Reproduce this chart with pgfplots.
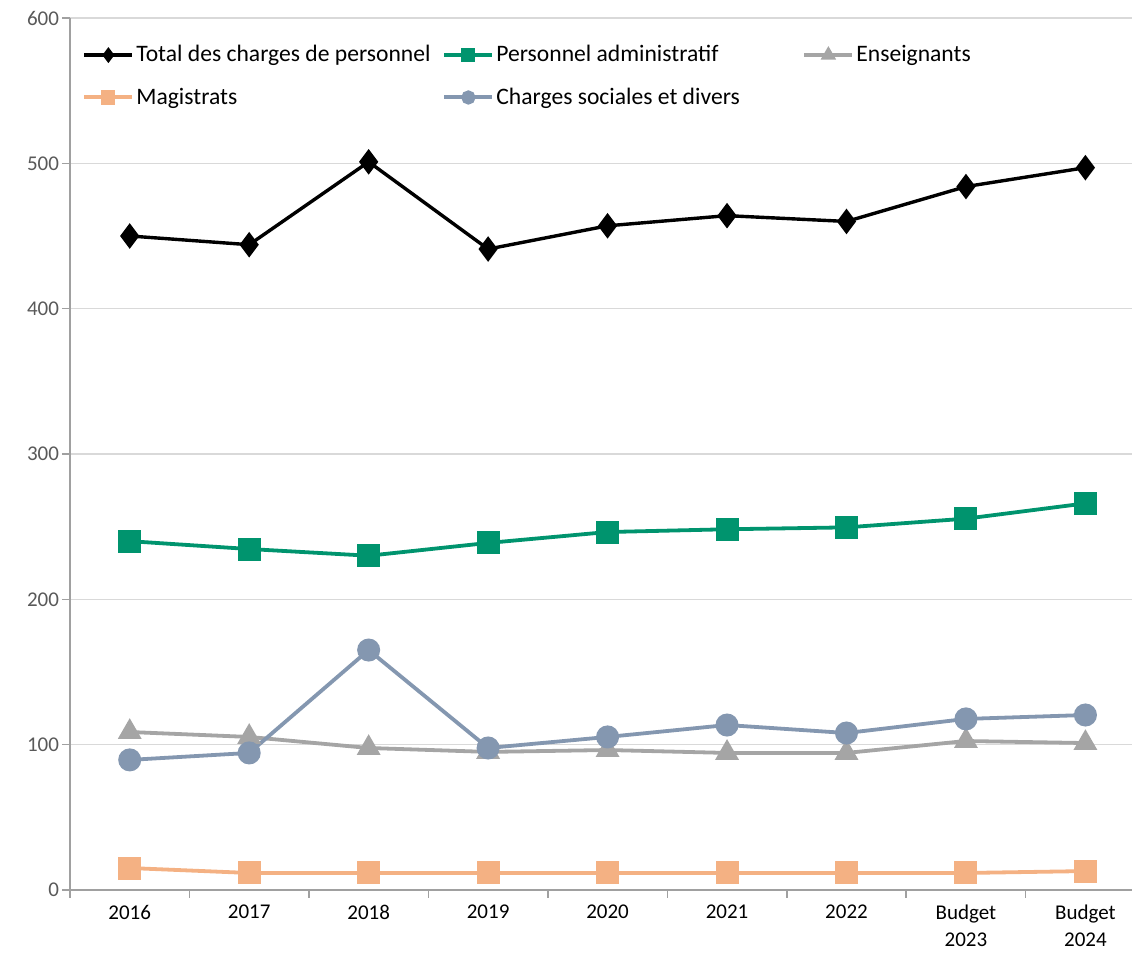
\documentclass[border=0pt]{standalone}
\usepackage{pgfplots}
\pgfplotsset{compat=1.18}
\usepackage{fontspec}
\setmainfont{Carlito}

\definecolor{cTotal}{RGB}{0,0,0}
\definecolor{cAdmin}{RGB}{0,148,110}
\definecolor{cEns}{RGB}{165,165,165}
\definecolor{cMag}{RGB}{244,177,131}
\definecolor{cSoc}{RGB}{132,151,176}
\definecolor{cAxis}{RGB}{160,160,160}
\definecolor{cGrid}{RGB}{217,217,217}
\definecolor{cLab}{RGB}{89,89,89}

\begin{document}
\begin{tikzpicture}
\begin{axis}[
    name=ax,
    scale only axis,
    width=531pt, height=436pt,
    xmin=-0.5, xmax=8.39,
    ymin=0, ymax=600,
    axis x line*=bottom, axis y line*=left,
    axis line style={cAxis, line width=0.8pt},
    xtick={0,...,8},
    xticklabels={2016,2017,2018,2019,2020,2021,2022,{Budget\\2023},{Budget\\2024}},
    xticklabel style={align=center, font=\fontsize{10.5}{13.5}\selectfont, text=black, yshift=-4pt},
    minor xtick={-0.5,0.5,...,7.5},
    ytick={0,100,...,600},
    minor ytick={0,100,...,600},
    yticklabel style={font=\fontsize{10.5}{12}\selectfont, text=cLab, xshift=-2pt},
    /pgf/number format/assume math mode=true,
    major tick length=0pt,
    minor tick length=4pt,
    tick align=outside,
    tick style={cAxis, line width=0.8pt},
    ymajorgrids,
    grid style={cGrid, line width=0.6pt},
    clip=false,
    legend columns=3,
    legend style={draw=none, fill=none, at={(0,1)}, anchor=north west,
        xshift=6pt, yshift=-12.5pt, inner sep=0pt,
        nodes={inner sep=1pt},
        font=\fontsize{11.8}{13}\selectfont, row sep=9.5pt,
        /tikz/every odd column/.append style={column sep=0pt}},
    legend image code/.code={
        \draw[#1, mark=none, line width=2pt] (0pt,0pt) -- (24pt,0pt);
        \draw[#1, mark size=2.6pt] plot coordinates {(12pt,0pt)};
    },
]
\addplot[cTotal, line width=1.7pt, mark=diamond*, mark size=5pt, mark options={solid}]
  coordinates {(0,450) (1,444) (2,501) (3,441) (4,457) (5,464) (6,460) (7,484) (8,497)};
\addlegendentry{\makebox[152pt][l]{Total des charges de personnel}}
\addplot[cAdmin, line width=1.9pt, mark=square*, mark size=4.8pt]
  coordinates {(0,240) (1,234.6) (2,230) (3,238.8) (4,246.3) (5,248.2) (6,249.5) (7,255.5) (8,266)};
\addlegendentry{\makebox[152pt][l]{Personnel administratif}}
\addplot[cEns, line width=1.9pt, mark=triangle*, mark size=5pt]
  coordinates {(0,108.7) (1,105.3) (2,97.7) (3,95) (4,96.3) (5,94.3) (6,94.3) (7,102.5) (8,101.1)};
\addlegendentry{Enseignants}
\addplot[cMag, line width=1.9pt, mark=square*, mark size=4.8pt]
  coordinates {(0,15.1) (1,11.7) (2,11.7) (3,11.7) (4,11.7) (5,11.7) (6,11.7) (7,11.7) (8,13)};
\addlegendentry{\makebox[152pt][l]{Magistrats}}
\addplot[cSoc, line width=1.9pt, mark=*, mark size=4.8pt]
  coordinates {(0,89.5) (1,94.3) (2,165.1) (3,97.7) (4,105.3) (5,113.5) (6,108) (7,117.7) (8,120.4)};
\addlegendentry{\makebox[152pt][l]{Charges sociales et divers}}
\end{axis}
\pgfresetboundingbox
\path[use as bounding box] ([xshift=-35pt,yshift=-35pt]ax.south west) rectangle ([yshift=9pt]ax.north east);
\end{tikzpicture}
\end{document}
